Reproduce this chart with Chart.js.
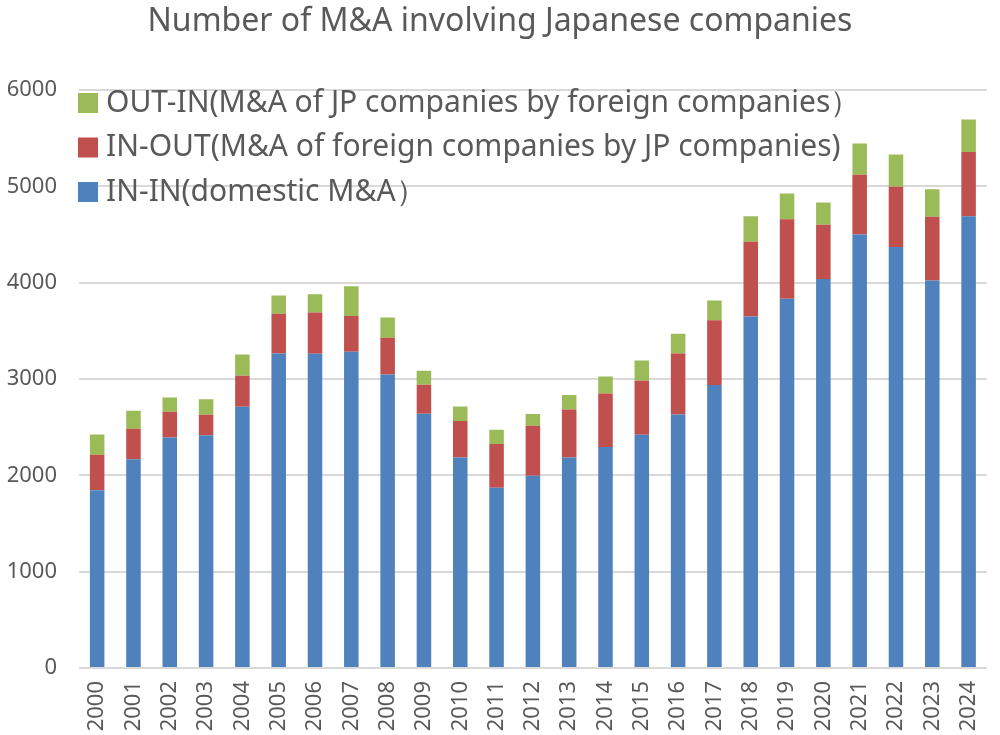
<!DOCTYPE html>
<html>
<head>
<meta charset="utf-8">
<script src="https://cdn.jsdelivr.net/npm/chart.js@4/dist/chart.umd.min.js"></script>
<style>
  html, body { margin: 0; padding: 0; background: #fff; }
  #wrap { width: 1000px; height: 735px; }
</style>
</head>
<body>
<div id="wrap"><canvas id="maChart" width="1000" height="735"></canvas></div>
<script>
// Years on the x axis
const years = ["2000", "2001", "2002", "2003", "2004", "2005", "2006", "2007", "2008", "2009",
  "2010", "2011", "2012", "2013", "2014", "2015", "2016", "2017", "2018", "2019",
  "2020", "2021", "2022", "2023", "2024"];

// Deal counts per type (stacked)
const inIn = [1844, 2166, 2394, 2415, 2712, 3265, 3262, 3283, 3047, 2639,
  2186, 1871, 1996, 2186, 2293, 2421, 2632, 2937, 3650, 3832,
  4037, 4500, 4369, 4023, 4690];
const inOut = [370, 317, 266, 214, 322, 412, 429, 370, 381, 301,
  377, 453, 518, 498, 557, 560, 633, 674, 774, 827,
  563, 619, 626, 660, 667];
const outIn = [211, 187, 149, 162, 221, 190, 190, 311, 211, 145,
  152, 149, 122, 149, 177, 212, 204, 204, 266, 267,
  232, 325, 335, 287, 336];

const yTicks = [0, 1000, 2000, 3000, 4000, 5000, 6000];

const FONT = "'Noto Sans', 'Open Sans', sans-serif";
const TEXT = "#595959";

// Legend drawn inside the plot area, top-left, newest series first
const innerLegend = {
  id: "innerLegend",
  afterDraw(chart) {
    const ctx = chart.ctx;
    const ds = chart.data.datasets.slice().reverse();
    ctx.save();
    ctx.font = "30px " + FONT;
    ctx.textBaseline = "middle";
    ds.forEach((d, i) => {
      const y = 103 + i * 44.5;
      ctx.fillStyle = d.backgroundColor;
      ctx.fillRect(78, y - 10, 20, 20);
      ctx.fillStyle = TEXT;
      ctx.fillText(d.label, 106, y);
    });
    ctx.restore();
  }
};

new Chart(document.getElementById("maChart"), {
  type: "bar",
  data: {
    labels: years,
    datasets: [
      { label: "IN-IN(domestic M&A）", data: inIn, backgroundColor: "#4F81BD" },
      { label: "IN-OUT(M&A of foreign companies by JP companies)", data: inOut, backgroundColor: "#C0504D" },
      { label: "OUT-IN(M&A of JP companies by foreign companies）", data: outIn, backgroundColor: "#9BBB59" }
    ]
  },
  options: {
    responsive: false,
    animation: false,
    layout: { padding: 0 },
    datasets: { bar: { categoryPercentage: 0.8, barPercentage: 0.5 } },
    plugins: {
      legend: { display: false },
      tooltip: { enabled: false },
      title: {
        display: true,
        text: "Number of M&A involving Japanese companies",
        color: TEXT,
        font: { family: FONT, size: 32, weight: "normal" },
        padding: { top: 3, bottom: 48.6 }
      }
    },
    scales: {
      x: {
        stacked: true,
        grid: { display: false },
        border: { display: false },
        ticks: {
          color: TEXT,
          font: { family: FONT, size: 22 },
          maxRotation: 90,
          minRotation: 90,
          padding: 5
        },
        afterFit(scale) { scale.height = 67; }
      },
      y: {
        stacked: true,
        min: 0,
        max: 6000,
        afterBuildTicks(scale) { scale.ticks = yTicks.map(v => ({ value: v })); },
        grid: { color: "#d9d9d9", lineWidth: 2, drawTicks: false },
        border: { display: false },
        ticks: {
          color: TEXT,
          font: { family: FONT, size: 22 },
          padding: 22,
          callback: v => String(v)
        },
        afterFit(scale) { scale.width = 79; }
      }
    }
  },
  plugins: [innerLegend]
});
</script>
</body>
</html>
